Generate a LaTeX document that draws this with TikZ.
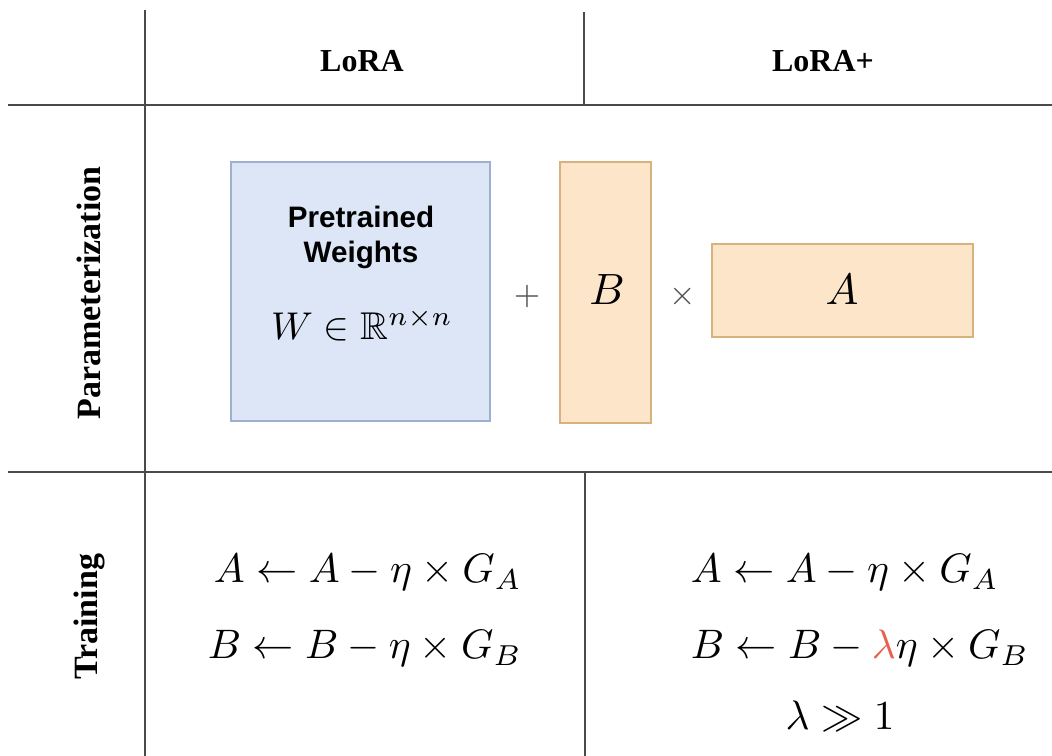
\documentclass[tikz,border=0pt]{standalone}
\usepackage{amssymb}
\usepackage[no-math]{fontspec}
\setmainfont{Liberation Serif}
\newfontfamily\hsans{Liberation Sans}
\definecolor{rulecol}{HTML}{4A4A4A}
\definecolor{bluefill}{HTML}{DCE6F6}
\definecolor{blueline}{HTML}{9DB0CF}
\definecolor{orfill}{HTML}{FDE5CA}
\definecolor{orline}{HTML}{D8B27E}
\definecolor{opcol}{HTML}{555555}
\definecolor{lamcol}{HTML}{E8604E}
\begin{document}
\begin{tikzpicture}[x=0.25pt,y=-0.25pt,
  hrule/.style={draw=rulecol,line width=0.65pt},
  vrule/.style={draw=rulecol,line width=0.45pt},
  header/.style={font=\fontsize{8}{9.5}\selectfont\bfseries,anchor=base,inner sep=0pt},
  rowlab/.style={font=\fontsize{8.5}{10}\selectfont\bfseries,rotate=90,inner sep=0pt},
  bluebox/.style={draw=blueline,fill=bluefill,line width=0.4pt},
  orbox/.style={draw=orline,fill=orfill,line width=0.4pt},
  eqn/.style={font=\fontsize{10}{12}\selectfont,scale=1.03,anchor=base west,inner sep=0pt},
  oper/.style={font=\fontsize{8}{9.5}\selectfont,text=opcol,anchor=base,inner sep=0pt},
  mlabel/.style={font=\fontsize{10.95}{13}\selectfont,anchor=base,inner sep=0pt},
  ptext/.style={font=\hsans\bfseries\fontsize{7.4}{9}\selectfont,anchor=base,inner sep=0pt}
]
\useasboundingbox (0,0) rectangle (1052,756);
\fill[white] (0,0) rectangle (1052,756);
% grid coordinates
\coordinate (vtop) at (145,10);
\coordinate (vbot) at (145,756);
\coordinate (mtop) at (584,12);
\coordinate (mbot) at (584,104);
\coordinate (h1l) at (8,105);
\coordinate (h1r) at (1052,105);
\coordinate (h2l) at (8,472);
\coordinate (h2r) at (1052,472);
\coordinate (btop) at (585,472);
\coordinate (bbot) at (585,756);
% boxes
\draw[bluebox] (231,162) rectangle (490,421);
\draw[orbox] (560,162) rectangle (651,423);
\draw[orbox] (712,244) rectangle (973,337);
% rules
\draw[vrule] (vtop) -- (vbot);
\draw[vrule] (mtop) -- (mbot);
\draw[vrule] (btop) -- (bbot);
\draw[hrule] (h1l) -- (h1r);
\draw[hrule] (h2l) -- (h2r);
% headers
\node[header] (hlora) at (362,72) {LoRA};
\node[header] (hloraplus) at (823,72) {LoRA+};
\node[rowlab] (rparam) at (89,293) {Parameterization};
\node[rowlab] (rtrain) at (89,617) {Training};
% parameterization
\node[ptext] (pw1) at (361,228) {Pretrained};
\node[ptext] (pw2) at (361,263) {Weights};
\node[eqn,anchor=base,scale=0.94] (wdef) at (362,340) {$W\in\mathbb{R}^{n\times n}$};
\node[oper] (plus) at (527,305) {$+$};
\node[mlabel] (blab) at (607,305) {$B$};
\node[oper] (times) at (683,305) {$\times$};
\node[mlabel] (alab) at (842,305) {$A$};
% training
\node[eqn] (la) at (213,583) {$A\leftarrow A-\eta\times G_A$};
\node[eqn] (lb) at (207,659) {$B\leftarrow B-\eta\times G_B$};
\node[eqn] (pa) at (690,583) {$A\leftarrow A-\eta\times G_A$};
\node[eqn] (pb) at (690,659) {$B\leftarrow B-\textcolor{lamcol}{\lambda}\eta\times G_B$};
\node[eqn,anchor=base] (pl) at (840,730) {$\lambda\gg 1$};
\end{tikzpicture}
\end{document}
